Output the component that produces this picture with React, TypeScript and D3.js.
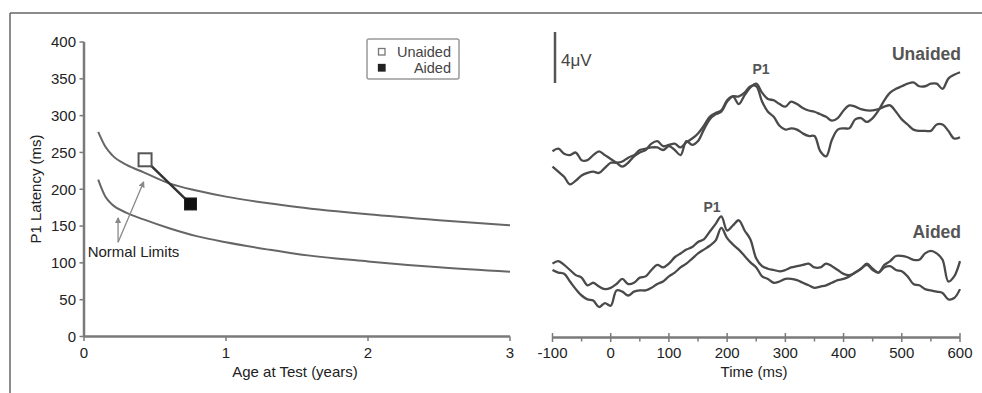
import React from 'react';
import * as d3 from 'd3';

// left panel: P1 latency normal limits vs age
const ages = [0.1, 0.15, 0.2, 0.3, 0.42, 0.6, 0.8, 1.0, 1.3, 1.5, 2.0, 2.5, 3.0];
const upperLimit = [278, 258, 246, 233, 223, 208, 198, 190, 181, 176, 166, 158, 151];
const lowerLimit = [213, 190, 179, 168, 159, 147, 136, 128, 118, 112, 102, 94, 88];

const conditions = ['Unaided', 'Aided'];
const subjectAges = [0.43, 0.75];
const subjectLatency = [240, 180];

const ageTicks = [0, 1, 2, 3];
const latencyTicks = [0, 50, 100, 150, 200, 250, 300, 350, 400];

// right panel: ERP waveforms (µV), sampled every 10 ms from -100 to 600
const times = d3.range(-100, 601, 10);
const unaidedA = [
  -0.1, 0.1, -0.3, -0.4, -0.2, -0.8, -0.8, -0.4, -0.1, -0.4,
  -0.7, -1.0, -1.3, -1.0, -0.5, -0.2, 0.0, 0.5, 0.7, 0.3,
  0.4, 0.5, 0.2, 0.6, 0.9, 1.3, 1.9, 2.6, 2.9, 3.1,
  3.9, 4.2, 3.6, 4.3, 4.9, 5.2, 4.5, 4.0, 3.9, 3.6,
  3.4, 3.8, 3.6, 3.3, 3.1, 3.0, 2.8, 2.6, 2.3, 2.5,
  3.1, 3.5, 3.4, 3.2, 3.1, 3.1, 3.2, 3.4, 3.5, 3.0,
  2.4, 2.0, 1.6, 1.5, 1.5, 1.5, 2.0, 2.0, 1.5, 0.9,
  1.0,
];
const unaidedB = [
  -1.3, -1.7, -2.1, -2.7, -2.4, -2.0, -1.8, -1.7, -1.8, -1.4,
  -1.0, -1.0, -0.9, -0.6, -0.4, 0.0, 0.1, 0.2, 0.2, 0.0,
  0.3, 0.0, -0.4, 0.7, 0.4, 0.7, 1.6, 2.4, 2.8, 3.0,
  3.8, 4.2, 4.2, 4.5, 5.0, 5.0, 3.8, 3.0, 2.6, 1.9,
  1.6, 1.7, 1.6, 1.3, 1.1, 1.1, -0.1, -0.5, 0.8, 1.6,
  1.7, 1.7, 2.4, 2.5, 2.2, 2.5, 3.1, 3.9, 4.5, 4.8,
  5.0, 5.2, 5.3, 5.0, 5.0, 5.2, 5.2, 4.8, 5.6, 5.9,
  6.1,
];
const aidedA = [
  0.5, 0.7, 0.4, 0.0, -0.4, -0.6, -1.2, -1.0, -1.3, -1.5,
  -1.4, -1.1, -0.7, -1.1, -1.0, -0.6, -0.5, 0.0, 0.4, 0.2,
  0.5, 1.0, 1.3, 1.6, 1.8, 2.2, 2.4, 3.0, 3.6, 4.2,
  3.1, 3.5, 3.9, 3.1, 2.4, 0.9, 0.3, 0.1, 0.0, -0.1,
  0.0, 0.2, 0.3, 0.4, 0.5, 0.2, 0.2, 0.5, 0.3, 0.0,
  -0.3, -0.4, -0.2, 0.1, 0.5, 0.1, -0.2, 0.4, 0.7, 1.1,
  1.1, 1.0, 0.8, 0.8, 1.3, 1.5, 1.3, 0.8, -0.9, -0.5,
  0.7,
];
const aidedB = [
  0.0, -0.2, -0.3, -0.9, -1.5, -2.0, -2.3, -2.4, -2.9, -2.6,
  -2.8, -1.6, -1.7, -2.0, -1.7, -1.6, -1.6, -1.4, -1.1, -0.9,
  -0.5, -0.2, 0.2, 0.5, 0.9, 1.3, 1.6, 1.9, 2.3, 3.3,
  2.5, 2.0, 1.6, 1.1, 0.6, 0.2, -0.5, -0.7, -1.0, -0.9,
  -0.7, -0.7, -0.8, -1.0, -1.2, -1.4, -1.3, -1.2, -1.0, -0.8,
  -0.7, -0.5, -0.2, 0.1, 0.4, 0.0, -0.2, 0.2, 0.3, 0.0,
  -0.1, -0.5, -1.1, -1.2, -1.5, -1.6, -1.7, -1.8, -2.3, -2.2,
  -1.5,
];
const timeTicks = [-100, 0, 100, 200, 300, 400, 500, 600];
const timeMinor = [-50, 50, 150, 250, 350, 450, 550];

const FONT = '"Liberation Sans", Arial, Helvetica, sans-serif';

export default function App() {
  const W = 982;
  const H = 393;

  // left panel scales
  const x = d3.scaleLinear().domain([0, 3]).range([84, 510]);
  const y = d3.scaleLinear().domain([0, 400]).range([336.5, 42]);
  const limitLine = d3.line<number>()
    .x((_, i) => x(ages[i]))
    .y(v => y(v))
    .curve(d3.curveMonotoneX);

  // right panel scales
  const xt = d3.scaleLinear().domain([-100, 600]).range([552.5, 960]);
  const yUp = d3.scaleLinear().domain([0, 4]).range([150, 99]);
  const yLo = d3.scaleLinear().domain([0, 4]).range([270, 219]);
  const yBar = d3.scaleLinear().domain([0, 4]).range([83, 32]);
  const wave = (ys: d3.ScaleLinear<number, number>) =>
    d3.line<number>()
      .x((_, i) => xt(times[i]))
      .y(v => ys(v))
      .curve(d3.curveCatmullRom.alpha(0.5));

  const axisColor = '#7a7a7a';
  const textColor = '#222';
  const traceColor = '#4a4a4a';
  const fs = 15;

  // annotation anchor in data coords
  const noteFrom = [0.24, 128];
  const noteTips = [[0.24, 161], [0.42, 210]];

  return (
    <svg width={W} height={H} style={{ position: 'absolute', left: 0, top: 0, background: '#fff' }}
      fontFamily={FONT}>
      <defs>
        <marker id="arr" viewBox="0 0 6 6" refX="5" refY="3" markerWidth="5" markerHeight="5" orient="auto">
          <path d="M0,0 L6,3 L0,6 z" fill="#888" />
        </marker>
      </defs>

      {/* frame */}
      <line x1={10} x2={W} y1={13} y2={13} stroke="#666" strokeWidth={1.5} />
      <line x1={10} x2={10} y1={13} y2={H} stroke="#666" strokeWidth={1.5} />

      {/* ---------- left panel ---------- */}
      <line x1={x(0)} x2={x(0)} y1={y(400)} y2={y(0)} stroke={axisColor} strokeWidth={2.5} />
      <line x1={x(0)} x2={x(3)} y1={y(0)} y2={y(0)} stroke={axisColor} strokeWidth={2.5} />
      {latencyTicks.map(t => (
        <g key={'yt' + t}>
          <line x1={x(0) - 4.5} x2={x(0)} y1={y(t)} y2={y(t)} stroke={axisColor} strokeWidth={1.5} />
          <text x={76} y={y(t)} dy="0.36em" textAnchor="end" fontSize={fs} fill={textColor}>{t}</text>
        </g>
      ))}
      {ageTicks.map(t => (
        <g key={'xt' + t}>
          <line x1={x(t)} x2={x(t)} y1={y(0)} y2={y(0) + 4.5} stroke={axisColor} strokeWidth={1.5} />
          <text x={x(t)} y={358} textAnchor="middle" fontSize={fs} fill={textColor}>{t}</text>
        </g>
      ))}
      <text x={295} y={377} textAnchor="middle" fontSize={fs} fill={textColor}>Age at Test (years)</text>
      <text transform="translate(41,189) rotate(-90)" textAnchor="middle" fontSize={fs} fill={textColor}>
        P1 Latency (ms)
      </text>

      <path d={limitLine(upperLimit) || ''} fill="none" stroke="#666" strokeWidth={2} />
      <path d={limitLine(lowerLimit) || ''} fill="none" stroke="#666" strokeWidth={2} />

      {/* normal limits annotation */}
      {noteTips.map((tip, i) => (
        <line key={'na' + i} x1={x(noteFrom[0])} y1={y(noteFrom[1])} x2={x(tip[0])} y2={y(tip[1])}
          stroke="#888" strokeWidth={1.3} markerEnd="url(#arr)" />
      ))}
      <text x={x(0.026)} y={y(108)} fontSize={fs} fill={textColor}>Normal Limits</text>

      {/* subject: unaided -> aided */}
      <line x1={x(subjectAges[0])} y1={y(subjectLatency[0])} x2={x(subjectAges[1])} y2={y(subjectLatency[1])}
        stroke="#333" strokeWidth={2.5} />
      <rect x={x(subjectAges[0]) - 6.5} y={y(subjectLatency[0]) - 6.5} width={13} height={13}
        fill="#fff" stroke="#555" strokeWidth={2} />
      <rect x={x(subjectAges[1]) - 6} y={y(subjectLatency[1]) - 6} width={12} height={12}
        fill="#111" stroke="#222" strokeWidth={1} />

      {/* legend */}
      <rect x={367} y={39} width={92} height={40} rx={2} fill="#fff" stroke="#999" strokeWidth={1.5} />
      {conditions.map((c, i) => (
        <g key={c}>
          <rect x={378.5} y={48.5 + i * 16} width={6.5} height={6.5}
            fill={i === 0 ? '#fff' : '#222'} stroke={i === 0 ? '#777' : '#222'} strokeWidth={1.3} />
          <text x={451} y={57 + i * 16} textAnchor="end" fontSize={14.5} fill="#444">{c}</text>
        </g>
      ))}

      {/* ---------- right panel ---------- */}
      <line x1={555} x2={555} y1={yBar(0)} y2={yBar(4)} stroke="#555" strokeWidth={2.5} />
      <text x={561} y={66} fontSize={17} fill="#444">4μV</text>

      <path d={wave(yUp)(unaidedA) || ''} fill="none" stroke={traceColor} strokeWidth={2.3} />
      <path d={wave(yUp)(unaidedB) || ''} fill="none" stroke={traceColor} strokeWidth={2.3} />
      <path d={wave(yLo)(aidedA) || ''} fill="none" stroke={traceColor} strokeWidth={2.3} />
      <path d={wave(yLo)(aidedB) || ''} fill="none" stroke={traceColor} strokeWidth={2.3} />

      <text x={961} y={60} textAnchor="end" fontSize={17.5} fontWeight="bold" fill="#555">Unaided</text>
      <text x={961} y={238} textAnchor="end" fontSize={17.5} fontWeight="bold" fill="#555">Aided</text>
      <text x={761} y={74} textAnchor="middle" fontSize={14} fontWeight="bold" fill="#555">P1</text>
      <text x={712} y={212} textAnchor="middle" fontSize={14} fontWeight="bold" fill="#555">P1</text>

      <line x1={xt(-100)} x2={xt(600)} y1={337.5} y2={337.5} stroke={axisColor} strokeWidth={2.5} />
      {timeTicks.map(t => (
        <g key={'tt' + t}>
          <line x1={xt(t)} x2={xt(t)} y1={333} y2={342} stroke={axisColor} strokeWidth={1.5} />
          <text x={xt(t)} y={358} textAnchor="middle" fontSize={fs} fill={textColor}>{t}</text>
        </g>
      ))}
      {timeMinor.map(t => (
        <line key={'tm' + t} x1={xt(t)} x2={xt(t)} y1={337.5} y2={341.5} stroke={axisColor} strokeWidth={1.5} />
      ))}
      <text x={754} y={377} textAnchor="middle" fontSize={fs} fill={textColor}>Time (ms)</text>
    </svg>
  );
}
